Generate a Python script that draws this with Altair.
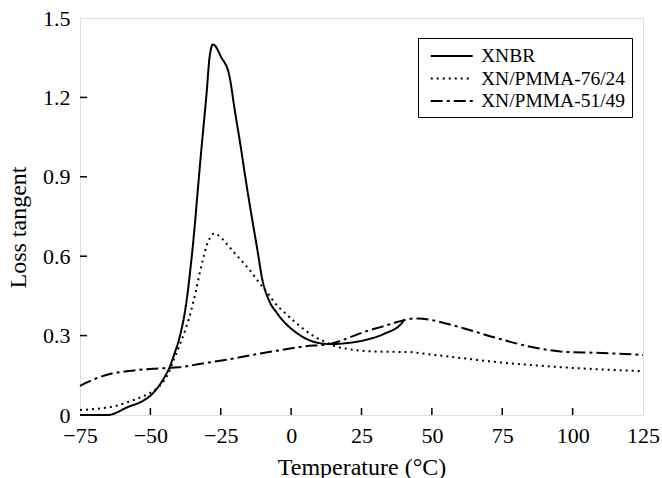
import altair as alt
import pandas as pd

# ---- data ----
series_names = ["XNBR", "XN/PMMA-76/24", "XN/PMMA-51/49"]

xnbr_t = [-75, -65.2, -58, -52.1, -49.1, -45.6, -43.2, -41.4, -39.7, -38.5, -37.5, -36.6, -35.8, -35,
          -34.2, -33.4, -32, -30, -29, -28.3, -27.9, -27, -25, -22, -20, -18, -16, -13.8, -12, -10.2,
          -7.9, -5, -2, 2, 5, 9.8, 14.5, 20, 26.2, 33.3, 39.2, 40.1]
xnbr_v = [0.0, 0.0, 0.03, 0.057, 0.082, 0.132, 0.18, 0.233, 0.29, 0.345, 0.405, 0.475, 0.55, 0.63,
          0.72, 0.82, 0.99, 1.22, 1.35, 1.39, 1.4, 1.395, 1.355, 1.285, 1.15, 1.02, 0.88, 0.737, 0.625, 0.51,
          0.434, 0.385, 0.346, 0.31, 0.29, 0.272, 0.268, 0.272, 0.283, 0.308, 0.346, 0.36]

pm76_t = [-75, -67.7, -62, -57.7, -51.5, -48, -45.5, -43.5, -42, -39.7, -37.3, -35.5, -33.8, -32.6,
          -31.4, -30.3, -29.3, -28.3, -27.3, -26, -23, -19.7, -16.5, -13.8, -11, -9, -5.5, -2, 1.5, 5,
          8.5, 12.1, 14.5, 20, 26.2, 34, 41.5, 50, 61.5, 73, 85, 97, 108.6, 125]
pm76_v = [0.019, 0.025, 0.035, 0.05, 0.076, 0.097, 0.125, 0.16, 0.2, 0.262, 0.33, 0.395, 0.47, 0.53,
          0.585, 0.63, 0.66, 0.678, 0.686, 0.68, 0.648, 0.607, 0.57, 0.535, 0.495, 0.47, 0.42, 0.384, 0.35, 0.32,
          0.295, 0.277, 0.264, 0.25, 0.242, 0.239, 0.238, 0.228, 0.214, 0.2, 0.189, 0.18, 0.173, 0.166]

pm51_t = [-75, -70, -64, -57.7, -49, -40, -31.4, -20, -13.8, -5, 3.9, 14.5, 20, 26.2, 32, 38,
          42, 45, 49.8, 55, 61.5, 73.3, 85, 96.9, 108.6, 125]
pm51_v = [0.11, 0.135, 0.156, 0.166, 0.175, 0.18, 0.195, 0.214, 0.227, 0.243, 0.258, 0.27, 0.29, 0.315, 0.333, 0.352,
          0.363, 0.365, 0.359, 0.346, 0.327, 0.29, 0.258, 0.239, 0.235, 0.227]

x_ticks = [-75, -50, -25, 0, 25, 50, 75, 100, 125]
y_ticks = [0, 0.3, 0.6, 0.9, 1.2, 1.5]
x_inner_ticks = [-50, -25, 0, 25, 50, 75, 100]
y_inner_ticks = [0.3, 0.6, 0.9, 1.2]

rows = []
for name, ts, vs in zip(series_names, [xnbr_t, pm76_t, pm51_t], [xnbr_v, pm76_v, pm51_v]):
    for t, v in zip(ts, vs):
        rows.append({"series": name, "t": t, "v": v})
df = pd.DataFrame(rows)

FONT = "Liberation Serif"
W, H = 563, 397

xscale = alt.Scale(domain=[-75, 125], nice=False, zero=False)
yscale = alt.Scale(domain=[0, 1.5], nice=False, zero=False)

lines = alt.Chart(df).mark_line(color="black", strokeWidth=2, interpolate="monotone").encode(
    x=alt.X("t:Q", scale=xscale,
            axis=alt.Axis(values=x_ticks, title="Temperature (°C)", tickSize=0, domain=False, grid=False,
                          labelFont=FONT, labelFontSize=22, labelColor="black", labelPadding=10,
                          labelFlush=False, labelOverlap=False,
                          titleFont=FONT, titleFontSize=24, titleFontWeight="normal", titleColor="black",
                          titleBaseline="alphabetic", titleY=59)),
    y=alt.Y("v:Q", scale=yscale,
            axis=alt.Axis(values=y_ticks, title="Loss tangent", tickSize=0, domain=False, grid=False,
                          labelExpr="datum.value == 0 ? '0' : format(datum.value, '.1f')",
                          labelFont=FONT, labelFontSize=22, labelColor="black", labelPadding=10,
                          labelFlush=False, labelOverlap=False,
                          titleFont=FONT, titleFontSize=24, titleFontWeight="normal", titleColor="black",
                          titleAngle=-90, titleBaseline="alphabetic", titleX=-55, titleY=209)),
    strokeDash=alt.StrokeDash("series:N",
                              scale=alt.Scale(domain=series_names, range=[[1, 0], [2, 4], [12, 4, 3, 4]]),
                              legend=alt.Legend(title=None, orient="none", legendX=338, legendY=20,
                                                strokeColor="black", padding=6.5, fillColor="white",
                                                symbolType="M-0.5,0H3.5", symbolSize=441, symbolStrokeWidth=2,
                                                symbolStrokeColor="black", labelFont=FONT, labelFontSize=19.5,
                                                labelColor="black", labelOffset=33.5, rowPadding=1.5,
                                                labelLimit=300)),
)

xt = pd.DataFrame({"t": x_inner_ticks})
yt = pd.DataFrame({"v": y_inner_ticks})

xtick_rules = alt.Chart(xt).mark_rule(color="black", strokeWidth=1.5).encode(
    x=alt.X("t:Q", scale=xscale), y=alt.value(H), y2=alt.value(H - 7))
ytick_rules = alt.Chart(yt).mark_rule(color="black", strokeWidth=1.5).encode(
    y=alt.Y("v:Q", scale=yscale), x=alt.value(0), x2=alt.value(7))

chart = alt.layer(lines, xtick_rules, ytick_rules).properties(
    width=W, height=H,
    autosize=alt.AutoSizeParams(type="none"),
    padding={"left": 80, "top": 18, "right": 19, "bottom": 63},
).configure_view(stroke="black", strokeWidth=1.5).configure(background="white")

chart.save("out.html", embed_options={"renderer": "svg", "actions": False})
